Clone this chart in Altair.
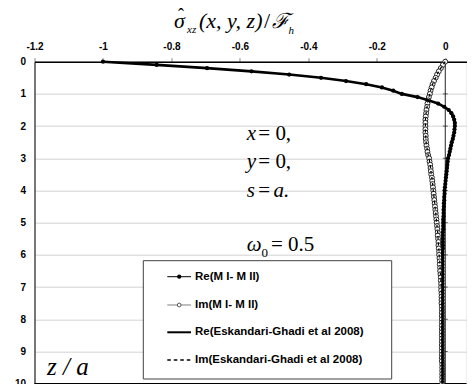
import altair as alt
import pandas as pd

# depth z/a sampled every 0.1
z_vals = [round(i * 0.1, 1) for i in range(101)]

re_vals = [
    -1.000, -0.843, -0.696, -0.566, -0.456, -0.363, -0.290, -0.231, -0.185, -0.152,
    -0.127, -0.081, -0.050, -0.021, -0.003, 0.010, 0.018, 0.023, 0.026, 0.028,
    0.028, 0.027, 0.026, 0.024, 0.022, 0.019, 0.017, 0.015, 0.013, 0.011,
    0.008, 0.007, 0.006, 0.005, 0.004, 0.003, 0.002, 0.001, 0.000, -0.001,
    -0.002, -0.002, -0.003, -0.003, -0.004, -0.004, -0.005, -0.005, -0.005, -0.006,
    -0.006, -0.006, -0.006, -0.007, -0.007, -0.007, -0.007, -0.007, -0.007, -0.008,
    -0.008, -0.008, -0.008, -0.008, -0.008, -0.008, -0.008, -0.008, -0.008, -0.008,
    -0.008, -0.008, -0.008, -0.008, -0.008, -0.008, -0.008, -0.008, -0.008, -0.008,
    -0.008, -0.008, -0.008, -0.008, -0.008, -0.008, -0.008, -0.008, -0.008, -0.008,
    -0.008, -0.008, -0.008, -0.008, -0.008, -0.008, -0.008, -0.008, -0.008, -0.008,
    -0.008,
]

im_vals = [
    0.000, -0.007, -0.013, -0.019, -0.024, -0.028, -0.033, -0.037, -0.040, -0.043,
    -0.045, -0.048, -0.050, -0.052, -0.053, -0.055, -0.056, -0.057, -0.058, -0.058,
    -0.058, -0.058, -0.058, -0.057, -0.057, -0.056, -0.055, -0.053, -0.052, -0.050,
    -0.047, -0.046, -0.044, -0.043, -0.042, -0.041, -0.039, -0.038, -0.037, -0.036,
    -0.035, -0.034, -0.033, -0.032, -0.031, -0.030, -0.029, -0.028, -0.027, -0.026,
    -0.025, -0.024, -0.023, -0.022, -0.022, -0.021, -0.020, -0.020, -0.019, -0.018,
    -0.018, -0.017, -0.016, -0.016, -0.015, -0.015, -0.014, -0.013, -0.013, -0.012,
    -0.012, -0.012, -0.011, -0.011, -0.011, -0.011, -0.010, -0.010, -0.010, -0.010,
    -0.010, -0.010, -0.010, -0.010, -0.010, -0.010, -0.010, -0.010, -0.010, -0.010,
    -0.010, -0.010, -0.010, -0.010, -0.009, -0.009, -0.009, -0.009, -0.009, -0.009,
    -0.009,
]

x_ticks = [-1.2, -1, -0.8, -0.6, -0.4, -0.2, 0]
z_ticks = [0, 1, 2, 3, 4, 5, 6, 7, 8, 9, 10]

legend_labels = [
    "Re(M I- M II)",
    "Im(M I- M II)",
    "Re(Eskandari-Ghadi et al 2008)",
    "Im(Eskandari-Ghadi et al 2008)",
]

df = pd.DataFrame({"z": z_vals, "re": re_vals, "im": im_vals})
zt = pd.DataFrame({"z": z_ticks})
one = pd.DataFrame({"k": [0]})

W, H = 432, 322
SANS = "Liberation Sans"
SERIF = "Liberation Serif"

xscale = alt.Scale(domain=[-1.2, 0.062], nice=False, zero=False)
yscale = alt.Scale(domain=[0, 10], reverse=True, nice=False, zero=False)

x_axis = alt.Axis(
    orient="top", values=x_ticks, labelExpr="'' + datum.value",
    labelFont=SANS, labelFontWeight="bold", labelFontSize=10, labelColor="black",
    tickSize=4, tickColor="#888888", domainColor="black", domainWidth=1.5,
    gridColor="#d4d4d4", gridWidth=1, title=None, labelPadding=6, labelFlush=False,
)
y_axis = alt.Axis(
    orient="left", values=z_ticks, ticks=False,
    labelFont=SANS, labelFontWeight="bold", labelFontSize=10, labelColor="black",
    domainColor="black", domainWidth=1, gridColor="#d4d4d4", gridWidth=1,
    title=None, labelPadding=9, labelFlush=False,
)

base = alt.Chart(df)
xr = alt.X("re:Q", scale=xscale, axis=x_axis)
xi = alt.X("im:Q", scale=xscale, axis=x_axis)
yz = alt.Y("z:Q", scale=yscale, axis=y_axis)

zero_rule = alt.Chart(one).mark_rule(color="#222222", strokeWidth=1).encode(
    x=alt.datum(0, scale=xscale, axis=x_axis), y=alt.value(0), y2=alt.value(H)
)
bottom_rule = alt.Chart(one).mark_rule(color="black", strokeWidth=1.2).encode(
    y=alt.datum(10, scale=yscale, axis=y_axis), x=alt.value(0), x2=alt.value(W)
)
zero_ticks = alt.Chart(zt).mark_tick(orient="horizontal", color="#222222", size=5, thickness=1).encode(
    x=alt.datum(0, scale=xscale, axis=x_axis), y=yz
)

re_line = base.mark_line(color="black", strokeWidth=1).encode(x=xr, y=yz, order="z:Q")
re_pts = base.mark_point(filled=True, color="black", size=18, opacity=1).encode(x=xr, y=yz)
im_line = base.mark_line(color="#808080", strokeWidth=1).encode(x=xi, y=yz, order="z:Q")
im_pts = base.mark_point(filled=False, fill="white", fillOpacity=1, stroke="#222222",
                         strokeWidth=1, size=24, opacity=1).encode(x=xi, y=yz)
re_esk = base.mark_line(color="black", strokeWidth=2.6).encode(x=xr, y=yz, order="z:Q")
im_esk = base.mark_line(color="black", strokeWidth=1.2, strokeDash=[3, 3]).encode(x=xi, y=yz, order="z:Q")

layers = [zero_rule, zero_ticks, bottom_rule, re_line, re_pts, im_line, im_pts, re_esk, im_esk]

# legend box
lx0, lx1, ly0, ly1 = 108.8, 357.2, 199, 317.3
layers.append(alt.Chart(one).mark_rect(fill="white", stroke="#404040", strokeWidth=1).encode(
    x=alt.value(lx0), x2=alt.value(lx1), y=alt.value(ly0), y2=alt.value(ly1)))
ent_y = [215, 243.3, 270.6, 298.3]
sx0, sx1, sxm, tx = 132.8, 156.5, 144.7, 160.5
layers.append(alt.Chart(one).mark_rule(color="black", strokeWidth=1).encode(
    x=alt.value(sx0), x2=alt.value(sx1), y=alt.value(ent_y[0])))
layers.append(alt.Chart(one).mark_point(filled=True, color="black", size=18, opacity=1).encode(
    x=alt.value(sxm), y=alt.value(ent_y[0])))
layers.append(alt.Chart(one).mark_rule(color="#808080", strokeWidth=1).encode(
    x=alt.value(sx0), x2=alt.value(sx1), y=alt.value(ent_y[1])))
layers.append(alt.Chart(one).mark_point(filled=False, fill="white", fillOpacity=1, stroke="#555555",
                                        strokeWidth=1, size=14, opacity=1).encode(
    x=alt.value(sxm), y=alt.value(ent_y[1])))
layers.append(alt.Chart(one).mark_rule(color="black", strokeWidth=2).encode(
    x=alt.value(sx0), x2=alt.value(sx1), y=alt.value(ent_y[2])))
layers.append(alt.Chart(one).mark_rule(color="black", strokeWidth=1.5, strokeDash=[3.5, 3]).encode(
    x=alt.value(sx0), x2=alt.value(sx1), y=alt.value(ent_y[3])))
for lab, yy in zip(legend_labels, ent_y):
    layers.append(alt.Chart(one).mark_text(align="left", baseline="middle", font=SANS,
                                           fontWeight="bold", fontSize=11.5, color="black").encode(
        x=alt.value(tx), y=alt.value(yy), text=alt.value(lab)))


def txt(s, x, y, size, italic=True, font=SERIF):
    kw = dict(align="left", baseline="alphabetic", font=font, fontSize=size, color="black")
    if italic:
        kw["fontStyle"] = "italic"
    return alt.Chart(one).mark_text(**kw).encode(x=alt.value(x), y=alt.value(y), text=alt.value(s))


# axis title (math)
layers += [
    txt("\u03c3", 139.5, -33.7, 22),
    txt("\u02c6", 143.5, -41, 18, italic=False),
    txt("xz", 152.5, -28.5, 11),
    txt("(x, y, z)", 164.5, -33.7, 22),
    txt("/", 229.5, -33.7, 22, italic=False),
    txt("\u2131", 237.5, -33.7, 21),
    txt("h", 254, -27.5, 11),
]
# annotations
layers += [
    txt("x", 212.2, 78.1, 21), txt("= 0,", 223.8, 78.1, 21, italic=False),
    txt("y", 212.2, 106.6, 21), txt("= 0,", 223.8, 106.6, 21, italic=False),
    txt("s", 212.2, 135, 21), txt("=", 223.8, 135, 21, italic=False), txt("a.", 239, 135, 21),
    txt("\u03c9", 212.2, 189, 21), txt("0", 227, 195, 13, italic=False),
    txt("= 0.5", 236.5, 189, 21, italic=False),
    txt("z / a", 12.5, 313.3, 25),
]

chart = alt.layer(*layers).properties(
    width=W, height=H,
    autosize=alt.AutoSizeParams(type="none"),
    padding={"left": 26.5, "top": 53.7, "right": 0, "bottom": 0},
).configure_view(strokeWidth=0).configure(background="white")

chart.save("out.html", embed_options={"renderer": "svg", "actions": False})
